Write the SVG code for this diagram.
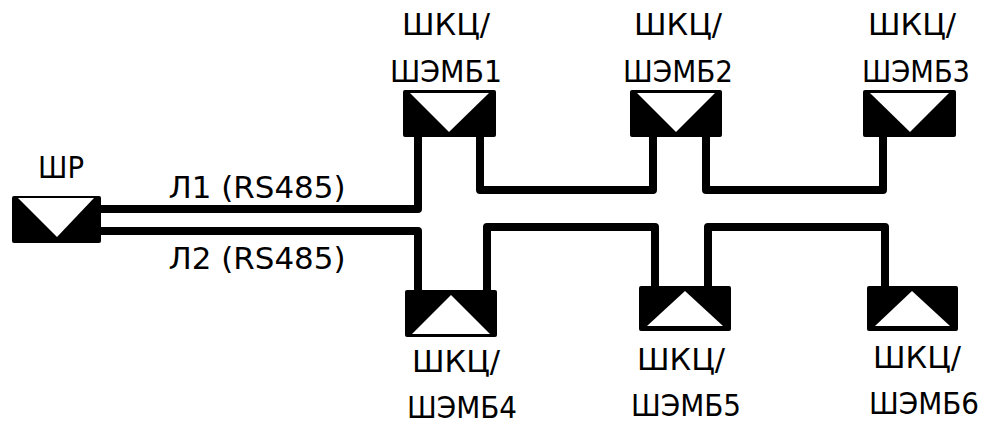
<svg xmlns="http://www.w3.org/2000/svg" width="992" height="433" viewBox="0 0 992 433">
<style>
.box{fill:#000}
.tri{fill:#fff}
.ln{fill:none;stroke:#000;stroke-width:8;stroke-linejoin:round}
text{font-family:"DejaVu Sans Condensed","DejaVu Sans",sans-serif;font-size:30px;fill:#000;text-anchor:middle}
</style>
<rect width="992" height="433" fill="#fff"/>
<g id="connectors">
<path class="ln" d="M100 209 H418 V137"/>
<path class="ln" d="M100 231 H418 V290"/>
<path class="ln" d="M480 137 V190 H653 V137"/>
<path class="ln" d="M706 137 V190 H883 V137"/>
<path class="ln" d="M487 290 V227 H655 V287"/>
<path class="ln" d="M708 287 V227 H885 V287"/>
</g>
<g id="shr">
<rect class="box" x="12" y="196" width="89" height="47" rx="2"/>
<polygon class="tri" points="18,198 94,198 57,237"/>
<text x="61" y="178" textLength="46" lengthAdjust="spacingAndGlyphs">ШР</text>
</g>
<g id="n1">
<rect class="box" x="403" y="90" width="93" height="47" rx="2"/>
<polygon class="tri" points="410,93 489,93 449,132"/>
<text x="446" y="35" textLength="88" lengthAdjust="spacingAndGlyphs">ШКЦ/</text>
<text x="446" y="82" textLength="112" lengthAdjust="spacingAndGlyphs">ШЭМБ1</text>
</g>
<g id="n2">
<rect class="box" x="630" y="90" width="92" height="47" rx="2"/>
<polygon class="tri" points="637,93 715,93 676,132"/>
<text x="678" y="35" textLength="88" lengthAdjust="spacingAndGlyphs">ШКЦ/</text>
<text x="678" y="82" textLength="110" lengthAdjust="spacingAndGlyphs">ШЭМБ2</text>
</g>
<g id="n3">
<rect class="box" x="863" y="90" width="93" height="47" rx="2"/>
<polygon class="tri" points="870,93 949,93 910,132"/>
<text x="912" y="35" textLength="88" lengthAdjust="spacingAndGlyphs">ШКЦ/</text>
<text x="916" y="82" textLength="108" lengthAdjust="spacingAndGlyphs">ШЭМБ3</text>
</g>
<g id="n4">
<rect class="box" x="405" y="290" width="92" height="47" rx="2"/>
<polygon class="tri" points="412,334 490,334 451,295"/>
<text x="456" y="372" textLength="88" lengthAdjust="spacingAndGlyphs">ШКЦ/</text>
<text x="462" y="418" textLength="110" lengthAdjust="spacingAndGlyphs">ШЭМБ4</text>
</g>
<g id="n5">
<rect class="box" x="639" y="286" width="92" height="45" rx="2"/>
<polygon class="tri" points="647,326 723,326 685,291"/>
<text x="681" y="370" textLength="88" lengthAdjust="spacingAndGlyphs">ШКЦ/</text>
<text x="686" y="416" textLength="110" lengthAdjust="spacingAndGlyphs">ШЭМБ5</text>
</g>
<g id="n6">
<rect class="box" x="867" y="286" width="91" height="45" rx="2"/>
<polygon class="tri" points="875,326 950,326 912,291"/>
<text x="917" y="368" textLength="88" lengthAdjust="spacingAndGlyphs">ШКЦ/</text>
<text x="924" y="414" textLength="110" lengthAdjust="spacingAndGlyphs">ШЭМБ6</text>
</g>
<g id="labels">
<text x="257" y="198" textLength="177" lengthAdjust="spacingAndGlyphs">Л1 (RS485)</text>
<text x="257" y="269" textLength="177" lengthAdjust="spacingAndGlyphs">Л2 (RS485)</text>
</g>
</svg>
